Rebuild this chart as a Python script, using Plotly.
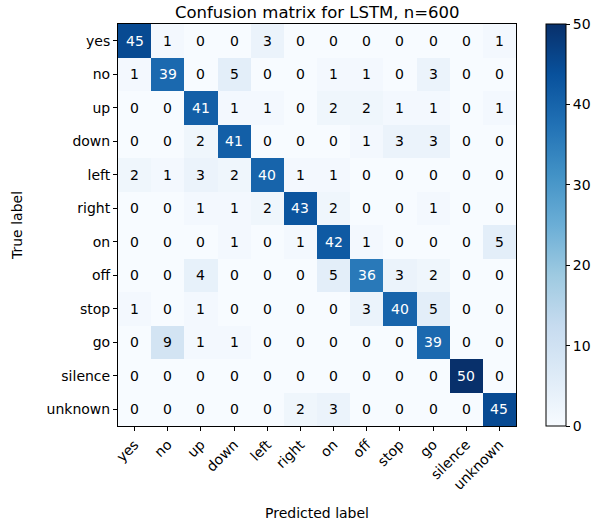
import plotly.graph_objects as go

labels = ["yes", "no", "up", "down", "left", "right", "on", "off", "stop", "go", "silence", "unknown"]
matrix = [
    [45, 1, 0, 0, 3, 0, 0, 0, 0, 0, 0, 1],
    [1, 39, 0, 5, 0, 0, 1, 1, 0, 3, 0, 0],
    [0, 0, 41, 1, 1, 0, 2, 2, 1, 1, 0, 1],
    [0, 0, 2, 41, 0, 0, 0, 1, 3, 3, 0, 0],
    [2, 1, 3, 2, 40, 1, 1, 0, 0, 0, 0, 0],
    [0, 0, 1, 1, 2, 43, 2, 0, 0, 1, 0, 0],
    [0, 0, 0, 1, 0, 1, 42, 1, 0, 0, 0, 5],
    [0, 0, 4, 0, 0, 0, 5, 36, 3, 2, 0, 0],
    [1, 0, 1, 0, 0, 0, 0, 3, 40, 5, 0, 0],
    [0, 9, 1, 1, 0, 0, 0, 0, 0, 39, 0, 0],
    [0, 0, 0, 0, 0, 0, 0, 0, 0, 0, 50, 0],
    [0, 0, 0, 0, 0, 2, 3, 0, 0, 0, 0, 45],
]
colorbar_ticks = [0, 10, 20, 30, 40, 50]

blues = ["#f7fbff", "#deebf7", "#c6dbef", "#9ecae1", "#6baed6",
         "#4292c6", "#2171b5", "#08519c", "#08306b"]
cs = [[i / (len(blues) - 1), c] for i, c in enumerate(blues)]

n = len(labels)
idx = list(range(n))
vmax = max(max(r) for r in matrix)
thresh = vmax / 2
FONT = "DejaVu Sans"

fig = go.Figure(go.Heatmap(
    z=matrix, x=idx, y=idx, colorscale=cs, zmin=0, zmax=vmax,
    xgap=0, ygap=0,
    colorbar=dict(
        thickness=20, len=1.0, lenmode="fraction", y=0.5, yanchor="middle",
        x=1.075, xanchor="left", xpad=0, ypad=0,
        outlinecolor="black", outlinewidth=1,
        tickvals=colorbar_ticks, ticks="outside", ticklen=4, tickcolor="black",
        tickfont=dict(family=FONT, size=14, color="black"),
    ),
))

annots = []
for i in range(n):
    for j in range(n):
        v = matrix[i][j]
        annots.append(dict(
            x=j, y=i, text=str(v), showarrow=False, xref="x", yref="y",
            font=dict(family=FONT, size=14,
                      color="white" if v > thresh else "black"),
        ))

fig.update_layout(
    width=593, height=524,
    margin=dict(l=118, r=77, t=24, b=98, autoexpand=False),
    paper_bgcolor="white", plot_bgcolor="white",
    annotations=annots,
    title=dict(text="Confusion matrix for LSTM, n=600", x=0.535, xanchor="center",
               y=0.977, yanchor="middle",
               font=dict(family=FONT, size=16.5, color="black")),
    font=dict(family=FONT, size=14, color="black"),
)
fig.update_xaxes(
    tickvals=idx, ticktext=labels, tickangle=-45, ticks="outside", ticklen=4,
    tickcolor="black", showline=True, linecolor="black", linewidth=1, mirror=True,
    range=[-0.5, n - 0.5], showgrid=False, zeroline=False, automargin=False,
    title=dict(text="Predicted label", standoff=16,
               font=dict(family=FONT, size=14)),
    tickfont=dict(family=FONT, size=14),
)
fig.update_yaxes(
    tickvals=idx, ticktext=labels, autorange=False, range=[n - 0.5, -0.5],
    ticks="outside", ticklen=4, tickcolor="black",
    showline=True, linecolor="black", linewidth=1, mirror=True,
    showgrid=False, zeroline=False, automargin=False,
    title=dict(text="True label", standoff=20,
               font=dict(family=FONT, size=14)),
    tickfont=dict(family=FONT, size=14),
)

fig.write_html("out.html")
